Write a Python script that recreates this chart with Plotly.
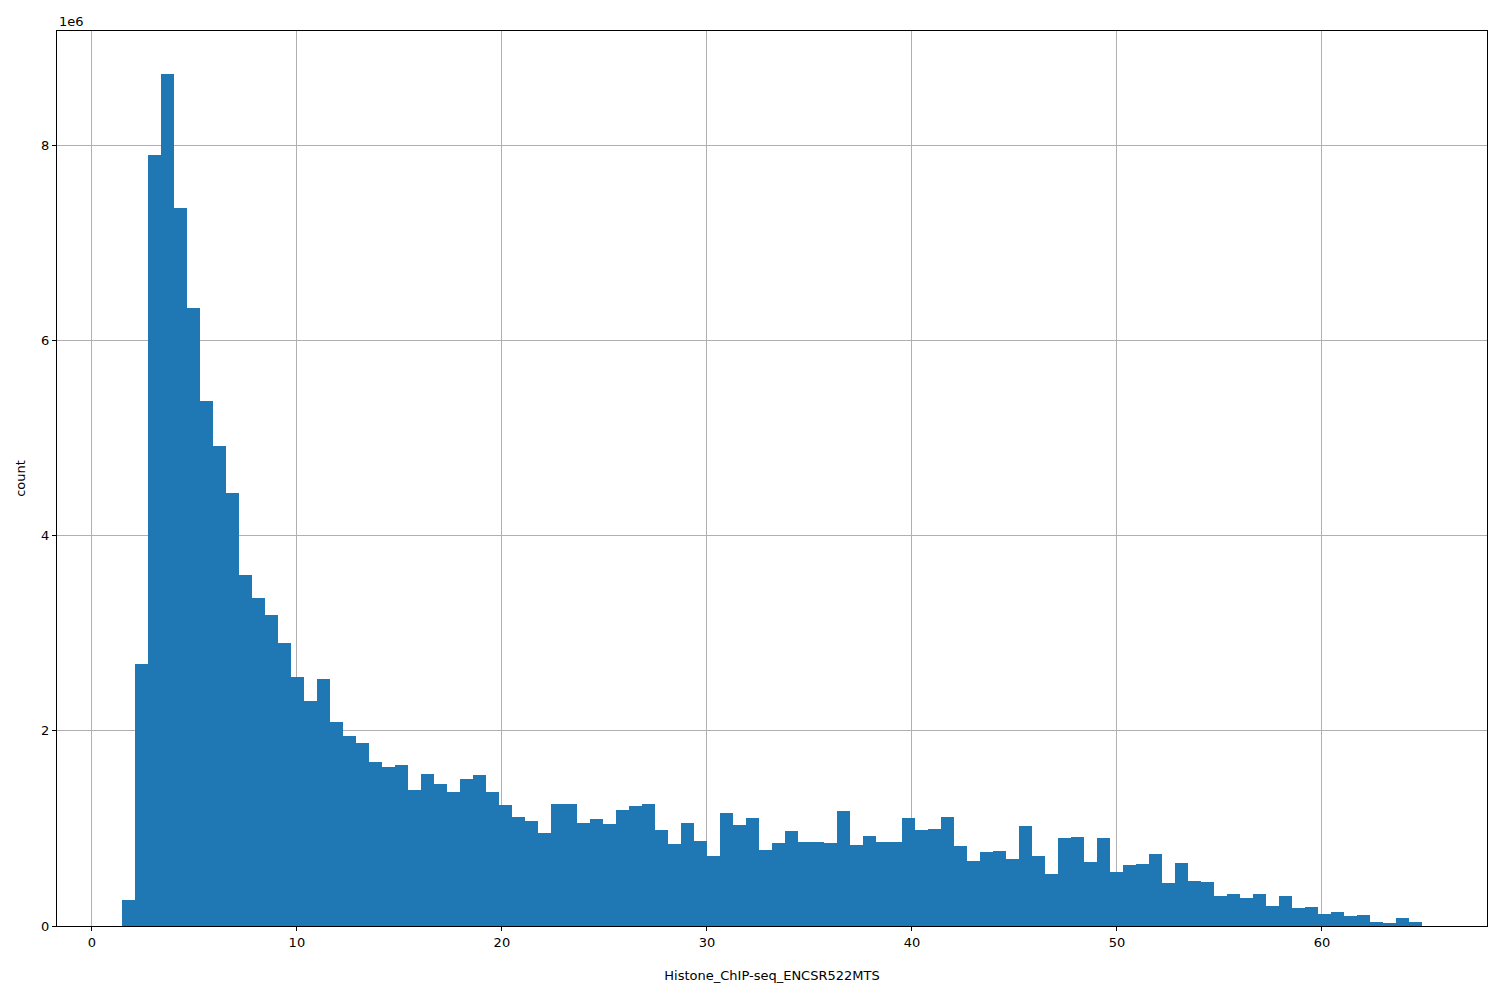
import plotly.graph_objects as go

# histogram of Histone_ChIP-seq_ENCSR522MTS, 100 bins
bin_start = 1.46
bin_width = 0.634
counts_1e6 = [
    0.27, 2.68, 7.90, 8.73, 7.36, 6.33, 5.38, 4.92, 4.44, 3.60,
    3.36, 3.19, 2.90, 2.55, 2.31, 2.53, 2.09, 1.95, 1.88, 1.68,
    1.63, 1.65, 1.39, 1.56, 1.45, 1.37, 1.51, 1.55, 1.37, 1.24,
    1.12, 1.08, 0.95, 1.25, 1.25, 1.06, 1.10, 1.05, 1.19, 1.23,
    1.25, 0.98, 0.84, 1.06, 0.87, 0.72, 1.16, 1.04, 1.11, 0.78,
    0.85, 0.97, 0.86, 0.86, 0.85, 1.18, 0.83, 0.92, 0.86, 0.86,
    1.11, 0.98, 0.99, 1.12, 0.82, 0.67, 0.76, 0.77, 0.69, 1.02,
    0.72, 0.53, 0.90, 0.91, 0.66, 0.90, 0.55, 0.62, 0.64, 0.74,
    0.44, 0.65, 0.46, 0.45, 0.31, 0.33, 0.29, 0.33, 0.21, 0.31,
    0.18, 0.19, 0.12, 0.14, 0.10, 0.11, 0.04, 0.03, 0.08, 0.04,
]
x_ticks = [0, 10, 20, 30, 40, 50, 60]
y_ticks = [0, 2, 4, 6, 8]

centers = [bin_start + (i + 0.5) * bin_width for i in range(len(counts_1e6))]

fig = go.Figure(go.Bar(x=centers, y=counts_1e6, width=bin_width,
                       marker=dict(color="#1f77b4", line=dict(width=0))))

axis_style = dict(showline=True, linecolor="black", linewidth=1, mirror=True,
                  showgrid=True, gridcolor="#b0b0b0", gridwidth=1,
                  ticks="outside", ticklen=4, tickcolor="black",
                  zeroline=False, layer="above traces",
                  tickfont=dict(family="DejaVu Sans", size=13, color="black"))

fig.update_xaxes(range=[-1.7, 68.05], tickvals=x_ticks,
                 title=dict(text="Histone_ChIP-seq_ENCSR522MTS", standoff=22,
                            font=dict(family="DejaVu Sans", size=13, color="black")),
                 **axis_style)
fig.update_yaxes(range=[0, 9.17], tickvals=y_ticks,
                 title=dict(text="count", standoff=12,
                            font=dict(family="DejaVu Sans", size=13, color="black")),
                 **axis_style)

fig.update_layout(
    width=1500, height=1000, bargap=0,
    plot_bgcolor="white", paper_bgcolor="white",
    margin=dict(l=46, r=21, t=23, b=82),
    showlegend=False,
    annotations=[dict(text="1e6", xref="paper", yref="paper", x=0, y=1,
                      xanchor="left", yanchor="bottom", showarrow=False,
                      font=dict(family="DejaVu Sans", size=13, color="black"))],
)

fig.write_html("out.html")
